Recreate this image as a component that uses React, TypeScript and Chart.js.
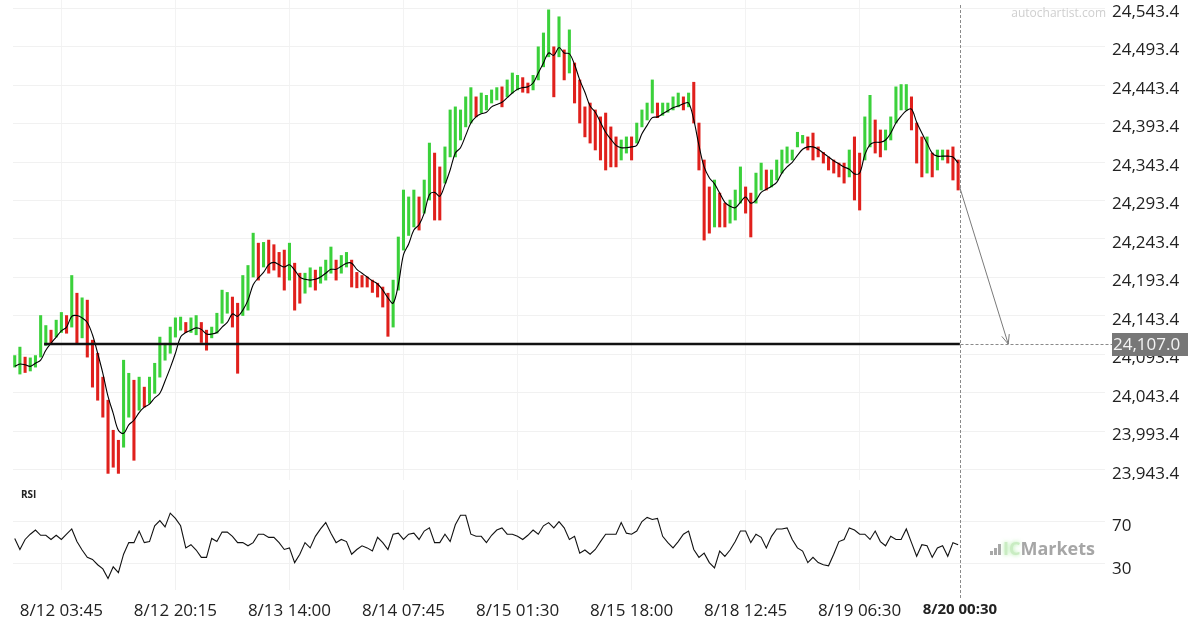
import React, { useEffect, useRef } from 'react';
import { Chart, registerables } from 'chart.js';

Chart.register(...registerables);

// ---- data (each bar = 3 slots of 15 minutes) ----
const barHighs = [
  24092, 24103, 24090, 24089, 24092, 24144, 24131, 24125, 24138, 24148,
  24144, 24196, 24173, 24167, 24164, 24112, 24095, 24064, 24034, 23995,
  23982, 24086, 24069, 24060, 24064, 24051, 24064, 24082, 24116, 24108,
  24129, 24141, 24142, 24135, 24141, 24144, 24135, 24125, 24129, 24147,
  24177, 24174, 24168, 24160, 24196, 24209, 24251, 24238, 24239, 24242,
  24236, 24226, 24229, 24238, 24212, 24199, 24199, 24206, 24203, 24207,
  24216, 24233, 24216, 24222, 24226, 24216, 24200, 24196, 24194, 24190,
  24186, 24181, 24173, 24190, 24246, 24307, 24298, 24307, 24298, 24320,
  24368, 24355, 24337, 24363, 24411, 24415, 24411, 24428, 24440, 24428,
  24433, 24430, 24437, 24440, 24441, 24450, 24459, 24456, 24453, 24446,
  24456, 24493, 24511, 24541, 24493, 24532, 24489, 24515, 24472, 24450,
  24415, 24420, 24411, 24402, 24407, 24389, 24376, 24372, 24376, 24376,
  24394, 24411, 24420, 24450, 24420, 24420, 24420, 24428, 24433, 24428,
  24433, 24447, 24394, 24346, 24311, 24320, 24303, 24290, 24294, 24307,
  24337, 24311, 24303, 24329, 24342, 24333, 24333, 24346, 24359, 24363,
  24359, 24382, 24378, 24376, 24381, 24363, 24356, 24350, 24346, 24342,
  24342, 24359, 24376, 24355, 24402, 24430, 24398, 24385, 24385, 24402,
  24441, 24444, 24444, 24428, 24394, 24376, 24376, 24355, 24359, 24359,
  24359, 24363, 24346,
];
const barLows = [
  24077, 24068, 24070, 24072, 24077, 24090, 24105, 24108, 24116, 24122,
  24121, 24129, 24108, 24115, 24090, 24051, 24034, 24012, 23939, 23947,
  23939, 23973, 24012, 23956, 24021, 24025, 24030, 24043, 24064, 24086,
  24095, 24116, 24125, 24122, 24122, 24119, 24109, 24099, 24115, 24121,
  24134, 24147, 24129, 24069, 24144, 24151, 24194, 24190, 24207, 24199,
  24203, 24194, 24177, 24190, 24151, 24160, 24173, 24181, 24177, 24186,
  24190, 24199, 24190, 24199, 24207, 24181, 24180, 24181, 24181, 24174,
  24168, 24155, 24117, 24129, 24177, 24229, 24248, 24259, 24255, 24277,
  24294, 24268, 24268, 24316, 24350, 24350, 24372, 24389, 24394, 24402,
  24407, 24411, 24420, 24424, 24415, 24428, 24433, 24437, 24434, 24433,
  24437, 24450, 24467, 24480, 24428, 24480, 24450, 24459, 24420, 24394,
  24376, 24368, 24359, 24346, 24333, 24337, 24337, 24346, 24355, 24346,
  24368, 24389, 24398, 24407, 24401, 24404, 24408, 24411, 24415, 24411,
  24415, 24394, 24333, 24242, 24251, 24259, 24259, 24259, 24264, 24268,
  24290, 24277, 24246, 24290, 24307, 24307, 24311, 24320, 24329, 24342,
  24346, 24363, 24368, 24359, 24346, 24350, 24342, 24333, 24329, 24324,
  24316, 24324, 24294, 24281, 24346, 24363, 24355, 24350, 24359, 24372,
  24394, 24411, 24411, 24385, 24342, 24324, 24329, 24324, 24333, 24346,
  24342, 24320, 24307,
];
const maValues = [
  24078, 24081, 24080, 24078, 24082, 24086, 24099, 24108, 24116, 24124,
  24129, 24143, 24144, 24141, 24135, 24119, 24095, 24069, 24039, 24017,
  23995, 23991, 24002, 24008, 24018, 24025, 24029, 24037, 24043, 24059,
  24076, 24095, 24116, 24122, 24125, 24128, 24126, 24120, 24120, 24122,
  24129, 24135, 24146, 24143, 24151, 24164, 24184, 24193, 24200, 24210,
  24213, 24210, 24207, 24210, 24203, 24194, 24191, 24190, 24191, 24194,
  24199, 24204, 24204, 24208, 24212, 24212, 24204, 24199, 24194, 24189,
  24185, 24177, 24167, 24160, 24184, 24223, 24237, 24255, 24262, 24277,
  24301, 24304, 24299, 24314, 24333, 24355, 24362, 24378, 24394, 24402,
  24406, 24408, 24415, 24418, 24421, 24427, 24433, 24438, 24440, 24441,
  24446, 24459, 24472, 24485, 24482, 24492, 24485, 24484, 24470, 24450,
  24434, 24416, 24408, 24395, 24382, 24373, 24365, 24362, 24362, 24363,
  24365, 24380, 24391, 24401, 24402, 24406, 24410, 24414, 24416, 24419,
  24420, 24398, 24365, 24337, 24323, 24315, 24303, 24291, 24286, 24284,
  24291, 24298, 24290, 24294, 24304, 24308, 24312, 24317, 24329, 24337,
  24343, 24352, 24360, 24363, 24363, 24360, 24355, 24350, 24345, 24341,
  24337, 24334, 24328, 24329, 24353, 24366, 24369, 24369, 24372, 24381,
  24394, 24403, 24410, 24412, 24395, 24381, 24368, 24355, 24351, 24351,
  24351, 24350, 24342,
];
const rsiValues = [
  54, 43.5, 53, 58, 62, 57, 57, 53, 57, 53,
  58, 63, 51, 43, 36, 34, 29, 25, 16, 27,
  21.5, 39, 50, 50, 61, 50, 51, 66, 71, 65,
  78, 73, 66, 45, 48, 43, 36, 36, 54, 51,
  60, 60, 56, 50, 50, 47, 50, 58, 58, 55,
  55, 50, 43.5, 45, 31, 39, 50, 45, 56, 63,
  69, 59, 50, 53, 51, 39, 43.5, 47, 45, 42,
  55, 50, 43.5, 58, 59, 53, 58, 59, 53, 61,
  64, 50, 50, 58, 51, 67, 76, 76, 58, 56,
  56, 50, 57, 62, 64, 58, 58, 56, 53, 57,
  62, 58, 66, 69, 64, 70, 64, 53, 56, 40,
  43, 39, 43.5, 51, 58, 58, 58, 69, 59, 58,
  61, 70, 74, 72, 73, 56, 50, 45, 51, 58,
  61, 43.5, 36, 40, 31, 26, 42, 37, 43, 51,
  61, 61, 50, 58, 55, 45, 56, 63, 63, 64,
  53, 45, 42, 31, 36, 31, 29, 28, 39, 51,
  53, 64, 62, 58, 58, 53, 61, 51, 47, 56,
  53, 53, 63, 50, 37, 48, 47, 36, 45, 47,
  37, 50, 48,
];
const priceTicks = [
  23943.4, 23993.4, 24043.4, 24093.4, 24143.4, 24193.4,
  24243.4, 24293.4, 24343.4, 24393.4, 24443.4, 24493.4, 24543.4,
];
const rsiTicks = [30, 70];
const xTickPos = [28, 94, 160, 226, 292, 358, 424, 490, 548];
const xTickLabels = [
  '8/12 03:45', '8/12 20:15', '8/13 14:00', '8/14 07:45', '8/15 01:30',
  '8/15 18:00', '8/18 12:45', '8/19 06:30', '8/20 00:30',
];
const levelPrice = 24107.0;
const levelStart = 18;
const lastSlot = 548;
const forecastStartPrice = 24310;
const forecastEndSlot = 576;
const SLOT_PER_BAR = 3;
const X_MAX = 632;
const PRICE_MIN = 23930.4;
const PRICE_MAX = 24553.8;

const GREEN = '#3bd13b';
const RED = '#e0201c';
const FONT = "'Open Sans', 'Noto Sans', sans-serif";

const fmtPrice = (v: number) =>
  v.toLocaleString('en-US', { minimumFractionDigits: 1, maximumFractionDigits: 1 });

const slotOf = (i: number) => i * SLOT_PER_BAR + 1;

const noPad = (s: any) => {
  s.paddingTop = 0;
  s.paddingBottom = 0;
  s.paddingLeft = 0;
  s.paddingRight = 0;
};

function PriceChart() {
  const ref = useRef<HTMLCanvasElement | null>(null);
  useEffect(() => {
    if (!ref.current) return;
    const mids = barLows.map((lo, i) => (lo + barHighs[i]) / 2);
    const colors = mids.map((m, i) => (i === 0 || m >= mids[i - 1] ? GREEN : RED));
    const overlay = {
      id: 'priceOverlay',
      afterDraw(chart: any) {
        const { ctx } = chart;
        const xs = chart.scales.x;
        const ys = chart.scales.y;
        const px = Math.round(xs.getPixelForValue(lastSlot)) + 0.5;
        const py = Math.round(ys.getPixelForValue(levelPrice)) + 0.5;
        ctx.save();
        ctx.strokeStyle = '#8a8a8a';
        ctx.lineWidth = 1;
        ctx.setLineDash([3, 2]);
        ctx.beginPath();
        ctx.moveTo(px, 5);
        ctx.lineTo(px, chart.height);
        ctx.moveTo(px, py);
        ctx.lineTo(1112, py);
        ctx.stroke();
        ctx.setLineDash([]);
        // arrow head
        const ax0 = xs.getPixelForValue(lastSlot);
        const ay0 = ys.getPixelForValue(forecastStartPrice);
        const ax1 = xs.getPixelForValue(forecastEndSlot);
        const ay1 = ys.getPixelForValue(levelPrice);
        const ang = Math.atan2(ay1 - ay0, ax1 - ax0);
        const len = 10;
        ctx.strokeStyle = '#7a7a7a';
        ctx.beginPath();
        ctx.moveTo(ax1 - len * Math.cos(ang - 0.4), ay1 - len * Math.sin(ang - 0.4));
        ctx.lineTo(ax1, ay1);
        ctx.lineTo(ax1 - len * Math.cos(ang + 0.4), ay1 - len * Math.sin(ang + 0.4));
        ctx.stroke();
        // level label box
        const cy = ys.getPixelForValue(levelPrice);
        ctx.fillStyle = '#777777';
        ctx.fillRect(1112, Math.round(cy) - 11, 76, 23);
        ctx.fillStyle = '#f4f4f4';
        ctx.font = `17px ${FONT}`;
        ctx.textBaseline = 'middle';
        ctx.textAlign = 'left';
        ctx.fillText(fmtPrice(levelPrice), 1113, cy + 1);
        // watermark
        ctx.fillStyle = '#cfcfcf';
        ctx.font = `12px ${FONT}`;
        ctx.textAlign = 'right';
        ctx.fillText('autochartist.com', 1106, 14);
        ctx.restore();
      },
    };
    const chart = new Chart(ref.current, {
      type: 'line',
      data: {
        datasets: [
          {
            type: 'line',
            data: [
              { x: levelStart, y: levelPrice },
              { x: lastSlot, y: levelPrice },
            ],
            borderColor: '#111111',
            borderWidth: 2.5,
            pointRadius: 0,
          },
          {
            type: 'line',
            data: [
              { x: lastSlot, y: forecastStartPrice },
              { x: forecastEndSlot, y: levelPrice },
            ],
            borderColor: '#7a7a7a',
            borderWidth: 1,
            pointRadius: 0,
          },
          {
            type: 'line',
            data: maValues.map((v, i) => ({ x: slotOf(i), y: v })),
            borderColor: '#000000',
            borderWidth: 1.1,
            pointRadius: 0,
            tension: 0.35,
          },
          {
            type: 'bar',
            data: barLows.map((lo, i) => ({ x: slotOf(i), y: [lo, barHighs[i]] })) as any,
            backgroundColor: colors,
            barThickness: 2.4,
            grouped: false,
          } as any,
        ],
      },
      options: {
        responsive: false,
        animation: false,
        events: [],
        layout: { padding: { left: 13, right: 0, top: 0, bottom: 0 } },
        plugins: { legend: { display: false }, tooltip: { enabled: false } },
        scales: {
          x: {
            type: 'linear',
            min: 0,
            max: X_MAX,
            offset: false,
            afterBuildTicks: (s: any) => {
              s.ticks = xTickPos.slice(0, 8).map((v) => ({ value: v }));
            },
            afterFit: (s: any) => {
              s.height = 0;
              noPad(s);
            },
            ticks: { display: false },
            grid: { color: '#f3f3f3', drawTicks: false, offset: false },
            border: { display: false },
          },
          y: {
            position: 'right',
            min: PRICE_MIN,
            max: PRICE_MAX,
            afterBuildTicks: (s: any) => {
              s.ticks = priceTicks.map((v) => ({ value: v }));
            },
            afterFit: (s: any) => {
              s.width = 95;
              noPad(s);
            },
            ticks: {
              callback: (v: any) => fmtPrice(Number(v)),
              font: { family: FONT, size: 17 },
              color: '#222222',
              padding: 7,
              labelOffset: 4,
            },
            grid: { color: '#f1f1f1', drawTicks: false },
            border: { display: false },
          },
        },
      } as any,
      plugins: [overlay],
    });
    return () => chart.destroy();
  }, []);
  return <canvas ref={ref} width={1200} height={480} style={{ display: 'block', width: 1200, height: 480 }} />;
}

function RsiChart() {
  const ref = useRef<HTMLCanvasElement | null>(null);
  useEffect(() => {
    if (!ref.current) return;
    const overlay = {
      id: 'rsiOverlay',
      afterDraw(chart: any) {
        const { ctx } = chart;
        const xs = chart.scales.x;
        const px = Math.round(xs.getPixelForValue(lastSlot)) + 0.5;
        ctx.save();
        ctx.strokeStyle = '#8a8a8a';
        ctx.lineWidth = 1;
        ctx.setLineDash([3, 2]);
        ctx.beginPath();
        ctx.moveTo(px, 0);
        ctx.lineTo(px, 118);
        ctx.stroke();
        ctx.setLineDash([]);
        // RSI title
        ctx.fillStyle = '#222222';
        ctx.font = `bold 10px ${FONT}`;
        ctx.textBaseline = 'middle';
        ctx.textAlign = 'left';
        ctx.fillText('RSI', 21, 15);
        // IC Markets logo
        ctx.fillStyle = '#a8a8a8';
        ctx.fillRect(990, 71, 3, 4);
        ctx.fillRect(994, 68, 3, 7);
        ctx.fillRect(998, 64, 3, 11);
        ctx.font = `bold 18px ${FONT}`;
        ctx.textBaseline = 'alphabetic';
        ctx.shadowColor = 'rgba(150, 230, 140, 0.8)';
        ctx.shadowBlur = 4;
        ctx.fillStyle = '#c9ecc2';
        ctx.fillText('IC', 1003, 75);
        const w = ctx.measureText('IC').width;
        ctx.shadowBlur = 0;
        ctx.shadowColor = 'transparent';
        ctx.fillStyle = '#a6a6a6';
        ctx.fillText('Markets', 1003 + w, 75);
        ctx.restore();
      },
    };
    const chart = new Chart(ref.current, {
      type: 'line',
      data: {
        datasets: [
          {
            data: rsiValues.map((v, i) => ({ x: slotOf(i), y: v })),
            borderColor: '#111111',
            borderWidth: 1.1,
            pointRadius: 0,
            tension: 0,
          },
        ],
      },
      options: {
        responsive: false,
        animation: false,
        events: [],
        layout: { padding: { left: 13, right: 0, top: 10, bottom: 0 } },
        plugins: { legend: { display: false }, tooltip: { enabled: false } },
        scales: {
          x: {
            type: 'linear',
            min: 0,
            max: X_MAX,
            afterBuildTicks: (s: any) => {
              s.ticks = xTickPos.map((v) => ({ value: v }));
            },
            afterFit: (s: any) => {
              s.height = 40;
              noPad(s);
            },
            ticks: {
              autoSkip: false,
              maxRotation: 0,
              padding: 11,
              color: '#222222',
              callback: (v: any) => {
                const idx = xTickPos.indexOf(Number(v));
                return idx >= 0 ? xTickLabels[idx] : '';
              },
              font: (c: any) =>
                c.tick && c.tick.value === lastSlot
                  ? { family: FONT, size: 15, weight: 'bold' }
                  : { family: FONT, size: 17 },
            },
            grid: {
              drawTicks: false,
              color: (c: any) => (c.tick && c.tick.value === lastSlot ? 'rgba(0,0,0,0)' : '#f1f1f1'),
            },
            border: { display: false },
          },
          y: {
            position: 'right',
            min: 5,
            max: 100,
            afterBuildTicks: (s: any) => {
              s.ticks = rsiTicks.map((v) => ({ value: v }));
            },
            afterFit: (s: any) => {
              s.width = 95;
              noPad(s);
            },
            ticks: {
              font: { family: FONT, size: 17 },
              color: '#222222',
              padding: 7,
              labelOffset: 5,
            },
            grid: { color: '#f1f1f1', drawTicks: false },
            border: { display: false },
          },
        },
      } as any,
      plugins: [overlay],
    });
    return () => chart.destroy();
  }, []);
  return <canvas ref={ref} width={1200} height={150} style={{ display: 'block', width: 1200, height: 150 }} />;
}

export default function App() {
  return (
    <div
      style={{
        position: 'absolute',
        left: 0,
        top: 0,
        width: 1200,
        height: 630,
        background: '#ffffff',
        overflow: 'hidden',
      }}
    >
      <PriceChart />
      <RsiChart />
    </div>
  );
}
